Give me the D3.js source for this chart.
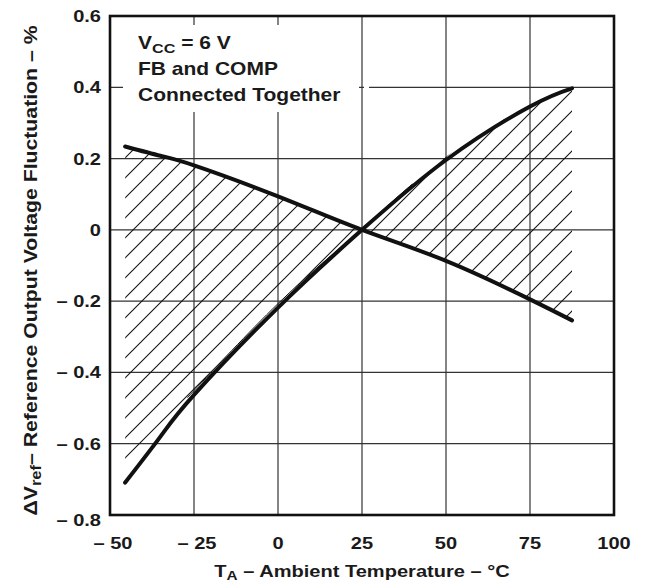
<!DOCTYPE html>
<html>
<head>
<meta charset="UTF-8">
<title>Reference output voltage fluctuation vs ambient temperature</title>
<script src="https://d3js.org/d3.v7.min.js"></script>
<style>
  body { margin: 0; background: #fff; }
  svg text { font-family: "Liberation Sans", Arial, sans-serif; font-weight: bold; fill: #1a1a1a; }
</style>
</head>
<body>
<svg width="646" height="583"></svg>
<script>
// values (percent)
var temps      = [-45.5, -35, -25, 0, 25, 50, 75, 87.5];
var fallCurve  = [0.234, 0.208, 0.181, 0.094, 0, -0.087, -0.195, -0.254];
var riseCurve  = [-0.709, -0.580, -0.463, -0.218, 0, 0.196, 0.346, 0.397];
var hatchEdge  = [-0.645, -0.545, -0.451, -0.207, 0.003, 0.205, 0.35, 0.4];

var xTicks = [-50, -25, 0, 25, 50, 75, 100];
var yTicks = [-0.8, -0.6, -0.4, -0.2, 0, 0.2, 0.4, 0.6];

var svg = d3.select("svg");
// plot box (note: "top" is taken by window.top, so use other names)
var pL = 110, pR = 614, pT = 16, pB = 515;
var sx = 1.18; // the original is a bit wide

var x = d3.scaleLinear().domain([-50, 100]).range([pL, pR]);
var y = d3.scaleLinear().domain([-0.8, 0.6]).range([pB, pT]);
var smooth = d3.curveNatural;

function fmt(v) {
  if (v === 0) return "0";
  var s = Math.abs(v) < 1 ? d3.format(".1f")(Math.abs(v)) : String(Math.abs(v));
  return v < 0 ? "\u2013 " + s : s;
}

// text helper, stretched horizontally like the source
function label(px, py, anchor, size, k) {
  return svg.append("text")
    .attr("transform", "translate(" + px + "," + py + ") scale(" + (k || sx) + ",1)")
    .attr("text-anchor", anchor)
    .style("font-size", size + "px");
}

// grid
var grid = svg.append("g").attr("stroke", "#333").attr("stroke-width", 1.2);
grid.selectAll(".vx").data(xTicks.slice(1, -1)).enter().append("line")
  .attr("x1", function(d) { return x(d); }).attr("x2", function(d) { return x(d); })
  .attr("y1", pT).attr("y2", pB);
grid.selectAll(".hy").data(yTicks.slice(1, -1)).enter().append("line")
  .attr("x1", pL).attr("x2", pR)
  .attr("y1", function(d) { return y(d); }).attr("y2", function(d) { return y(d); });

// hatched region between the curves
var pts = temps.map(function(t, i) { return { t: t, f: fallCurve[i], r: riseCurve[i], h: hatchEdge[i] }; });
var area = d3.area().curve(smooth)
  .x(function(d) { return x(d.t); })
  .y0(function(d) { return y(d.h); })
  .y1(function(d) { return y(d.f); });
svg.append("clipPath").attr("id", "hclip").append("path").attr("d", area(pts));

var hatch = svg.append("g").attr("clip-path", "url(#hclip)")
  .attr("stroke", "#111").attr("stroke-width", 1.1);
hatch.selectAll("line").data(d3.range(-17, 18)).enter().append("line")
  .attr("x1", pL).attr("y1", function(k) { return 583 + 20 * k - pL; })
  .attr("x2", pR).attr("y2", function(k) { return 583 + 20 * k - pR; });

// thin edge of the hatch next to the rising curve
svg.append("clipPath").attr("id", "eclip").append("rect")
  .attr("x", x(-27)).attr("y", pT).attr("width", x(40) - x(-27)).attr("height", pB - pT);
svg.append("path")
  .attr("clip-path", "url(#eclip)")
  .attr("d", d3.line().curve(smooth)
    .x(function(d) { return x(d.t); }).y(function(d) { return y(d.h); })(pts))
  .attr("fill", "none").attr("stroke", "#111").attr("stroke-width", 1);

// the two curves
[fallCurve, riseCurve].forEach(function(vals) {
  svg.append("path")
    .attr("d", d3.line().curve(smooth)
      .x(function(d, i) { return x(temps[i]); }).y(function(d) { return y(d); })(vals))
    .attr("fill", "none").attr("stroke", "#111").attr("stroke-width", 4)
    .attr("stroke-linecap", "round");
});

// white box behind the notes
svg.append("rect").attr("x", 123).attr("y", 25).attr("width", 236).attr("height", 87).attr("fill", "#fff");
svg.append("rect").attr("x", 364).attr("y", y(0.4) - 2).attr("width", 5).attr("height", 4).attr("fill", "#fff");

// frame
svg.append("rect").attr("x", pL).attr("y", pT).attr("width", pR - pL).attr("height", pB - pT)
  .attr("fill", "none").attr("stroke", "#111").attr("stroke-width", 2.6);

// tick labels
yTicks.forEach(function(v) {
  label(101, y(v) + 6 + (v === -0.8 ? 5 : 0), "end", 17).text(fmt(v));
});
xTicks.forEach(function(v) {
  label(x(v) + (v < 0 ? 3 : 0), 549, "middle", 17).text(fmt(v));
});

// axis titles
var xt = label((pL + pR) / 2, 577, "middle", 17);
xt.append("tspan").text("T");
xt.append("tspan").attr("dy", 3).style("font-size", "13px").text("A");
xt.append("tspan").attr("dy", -3).text(" \u2013 Ambient Temperature \u2013 \u00b0C");

var yt = svg.append("text")
  .attr("transform", "translate(37," + ((pT + pB) / 2 + 5) + ") rotate(-90) scale(1.18,1)")
  .attr("text-anchor", "middle").style("font-size", "18px");
yt.append("tspan").text("\u0394V");
yt.append("tspan").attr("dy", 4).style("font-size", "14px").text("ref");
yt.append("tspan").attr("dy", -4).text("\u2013 Reference Output Voltage Fluctuation \u2013 %");

// notes
var n1 = label(138, 49, "start", 17.5, 1.2);
n1.append("tspan").text("V");
n1.append("tspan").attr("dy", 4).style("font-size", "13.5px").text("CC");
n1.append("tspan").attr("dy", -4).text(" = 6 V");
label(138, 75, "start", 17.5, 1.2).text("FB and COMP");
label(138, 101, "start", 17.5, 1.2).text("Connected Together");
</script>
</body>
</html>
